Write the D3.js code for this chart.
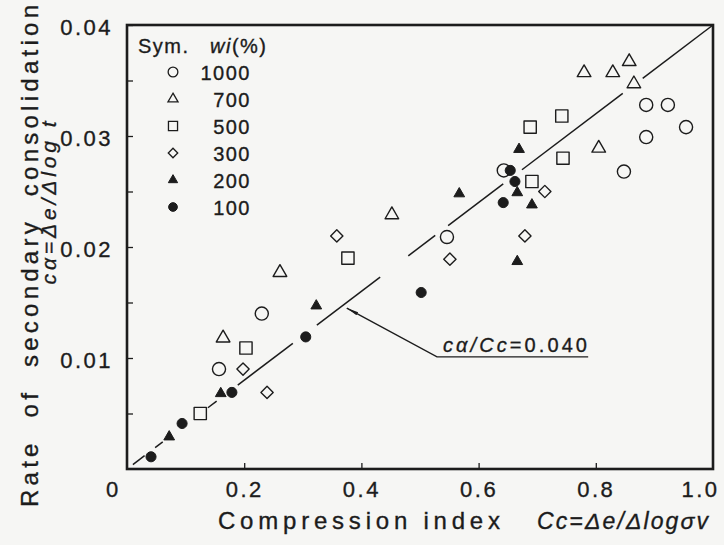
<!DOCTYPE html>
<html><head><meta charset="utf-8">
<script src="https://cdn.jsdelivr.net/npm/d3@7"></script>
<style>
html,body{margin:0;padding:0;background:#f6f6f4;}
svg{display:block;}
text{font-family:"Liberation Sans",Arial,sans-serif;fill:#1c1c1c;stroke:#1c1c1c;stroke-width:0.35px;}
</style></head><body><svg id="chart" width="724" height="545"></svg>
<script>
// ---- data (Cc, c_alpha) per initial water content ----
const seriesNames = ["1000","700","500","300","200","100"];
const wi1000 = [[0.886,0.0328],[0.923,0.0328],[0.954,0.0308],[0.886,0.0299],[0.848,0.0268],[0.643,0.0269],[0.546,0.0209],[0.230,0.0140],[0.157,0.0090]];
const wi700  = [[0.780,0.0357],[0.829,0.0357],[0.857,0.0367],[0.865,0.0347],[0.805,0.0289],[0.452,0.0229],[0.261,0.0177],[0.164,0.0118]];
const wi500  = [[0.742,0.0318],[0.688,0.0308],[0.744,0.0280],[0.691,0.0259],[0.377,0.0190],[0.203,0.0109],[0.125,0.0050]];
const wi300  = [[0.713,0.0250],[0.679,0.0210],[0.551,0.0189],[0.358,0.0210],[0.198,0.0090],[0.239,0.0069]];
const wi200  = [[0.669,0.0288],[0.567,0.0248],[0.666,0.0249],[0.691,0.0238],[0.666,0.0187],[0.323,0.0147],[0.160,0.0068],[0.072,0.0029]];
const wi100  = [[0.654,0.0269],[0.662,0.0259],[0.642,0.0240],[0.502,0.0159],[0.305,0.0119],[0.179,0.0069],[0.094,0.0041],[0.041,0.0011]];
const xTicks = [0.2,0.4,0.6,0.8,1.0];
const yTicks = [0.005,0.01,0.015,0.02,0.025,0.03,0.035,0.04];
const yLabelled = [0.01,0.02,0.03,0.04];
const fitRatio = 0.040;
// visible pieces of the (broken) fit line, as Cc ranges
const fitSegments = [[0.01,0.03],[0.048,0.061],[0.138,0.153],[0.189,0.283],[0.324,0.432],[0.48,0.526],[0.548,0.642],[0.674,0.846],[0.88,1.0]];
const annotText = "0.040";
const annotTip = [0.375, 0.0145];
const annotElbow = [0.529, 0.0101];
const annotEnd = [0.787, 0.0101];

const svg = d3.select("#chart");
const ink = "#1c1c1c", bg = "#f6f6f4";
const x = d3.scaleLinear().domain([0,1]).range([127,713]);
const y = d3.scaleLinear().domain([0,0.04]).range([469,25]);

// fit line
svg.append("g").selectAll("line").data(fitSegments).join("line")
  .attr("x1", d => x(d[0])).attr("y1", d => y(d[0]*fitRatio))
  .attr("x2", d => x(d[1])).attr("y2", d => y(d[1]*fitRatio))
  .attr("stroke", ink).attr("stroke-width", 1.5);

// axes
const yAx = svg.append("g").attr("transform", `translate(${x(0)},0)`)
  .call(d3.axisLeft(y).tickValues(yTicks).tickSize(-6).tickPadding(14)
    .tickFormat(d => yLabelled.some(v => Math.abs(v-d) < 1e-9) ? d3.format(".2f")(d) : ""));
yAx.select(".domain").remove();
yAx.selectAll("line").attr("stroke", ink).attr("stroke-width", 1.3);
yAx.selectAll("text").attr("font-size", 22).attr("letter-spacing", "2.5px")
  .attr("dy", "0.42em").attr("font-family", '"Liberation Sans",Arial,sans-serif').attr("fill", ink);

const xAx = svg.append("g").attr("transform", `translate(0,${y(0)})`)
  .call(d3.axisBottom(x).tickValues(xTicks).tickSize(-6).tickPadding(12).tickFormat(d3.format(".1f")));
xAx.select(".domain").remove();
xAx.selectAll("line").attr("stroke", ink).attr("stroke-width", 1.3);
xAx.selectAll("text").attr("font-size", 22).attr("letter-spacing", "2.5px")
  .attr("font-family", '"Liberation Sans",Arial,sans-serif').attr("fill", ink)
  .attr("dx", d => d === 1.0 ? -13 : 0);
xAx.selectAll(".tick").filter(d => d === 1.0).select("line").remove();

// origin label
svg.append("text").attr("x", x(0) - 15).attr("y", y(0) + 12).attr("dy", "0.71em")
  .attr("text-anchor", "middle").attr("font-size", 22).text("0");

// frame
svg.append("rect").attr("x", x(0)).attr("y", y(0.04))
  .attr("width", x(1) - x(0)).attr("height", y(0) - y(0.04))
  .attr("fill", "none").attr("stroke", ink).attr("stroke-width", 2.6);

// symbols
const shapes = {
  "1000": {type: d3.symbolCircle, size: 135, fill: false, rot: 0},
  "700":  {type: d3.symbolTriangle, size: 80, fill: false, rot: 0},
  "500":  {type: d3.symbolSquare, size: 150, fill: false, rot: 0},
  "300":  {type: d3.symbolSquare, size: 75, fill: false, rot: 45},
  "200":  {type: d3.symbolTriangle, size: 50, fill: true, rot: 0},
  "100":  {type: d3.symbolCircle, size: 80, fill: true, rot: 0}
};
const dataBy = {"1000": wi1000, "700": wi700, "500": wi500, "300": wi300, "200": wi200, "100": wi100};
const pts = svg.append("g");
seriesNames.forEach(name => {
  const s = shapes[name];
  pts.append("g").selectAll("path").data(dataBy[name]).join("path")
    .attr("d", d3.symbol().type(s.type).size(s.size))
    .attr("transform", d => `translate(${x(d[0])},${y(d[1])}) rotate(${s.rot})`)
    .attr("fill", s.fill ? ink : bg).attr("stroke", ink).attr("stroke-width", s.fill ? 1 : 1.4)
    .attr("stroke-linejoin", "round");
});

// legend
const lg = svg.append("g");
const hdr = lg.append("text").attr("x", 138).attr("y", 53).attr("font-size", 20).attr("letter-spacing", "1.5px")
  .style("white-space", "pre");
hdr.append("tspan").text("Sym.  ");
hdr.append("tspan").attr("x", 210).attr("font-style", "italic").text("wi");
hdr.append("tspan").text("(%)");
const legendScale = {"1000": 0.55, "700": 0.55, "500": 0.55, "300": 0.6, "200": 0.75, "100": 0.75};
seriesNames.forEach((name, i) => {
  const s = shapes[name];
  const ry = 72 + i * 27;
  lg.append("path").attr("d", d3.symbol().type(s.type).size(s.size * legendScale[name]))
    .attr("transform", `translate(173,${ry}) rotate(${s.rot})`)
    .attr("fill", s.fill ? ink : bg).attr("stroke", ink).attr("stroke-width", s.fill ? 1 : 1.3);
  lg.append("text").attr("x", 251).attr("y", ry + 8).attr("text-anchor", "end")
    .attr("font-size", 20).attr("letter-spacing", "1.5px").text(name);
});

// annotation
const defs = svg.append("defs");
defs.append("marker").attr("id", "ah").attr("viewBox", "0 0 12 6").attr("refX", 12).attr("refY", 3)
  .attr("markerWidth", 12).attr("markerHeight", 6).attr("markerUnits", "userSpaceOnUse").attr("orient", "auto")
  .append("path").attr("d", "M0,1.2 L12,3 L0,4.8 Z").attr("fill", ink);
svg.append("path")
  .attr("d", `M${x(annotEnd[0])},${y(annotEnd[1])} L${x(annotElbow[0])},${y(annotElbow[1])} L${x(annotTip[0])},${y(annotTip[1])}`)
  .attr("fill", "none").attr("stroke", ink).attr("stroke-width", 1.4).attr("marker-end", "url(#ah)");
const at = svg.append("text").attr("x", x(annotElbow[0]) + 6).attr("y", y(annotElbow[1]) - 5)
  .attr("font-size", 20).attr("textLength", 144).attr("lengthAdjust", "spacing");
at.append("tspan").attr("font-style", "italic").text("cα/Cc");
at.append("tspan").text("=" + annotText);

// axis titles
svg.append("text").attr("transform", "translate(38,256) rotate(-90)").attr("text-anchor", "middle")
  .attr("font-size", 24).style("white-space", "pre").attr("textLength", 502).attr("lengthAdjust", "spacing")
  .text("Rate  of  secondary  consolidation");
const yt2 = svg.append("text").attr("transform", "translate(56,203) rotate(-90)").attr("text-anchor", "middle")
  .attr("font-size", 21).attr("font-style", "italic").attr("textLength", 163).attr("lengthAdjust", "spacing");
yt2.text("cα=Δe/Δlog t");

svg.append("text").attr("x", 218).attr("y", 529).attr("font-size", 24)
  .attr("textLength", 282).attr("lengthAdjust", "spacing").text("Compression index");
svg.append("text").attr("x", 537).attr("y", 529).attr("font-size", 23).attr("font-style", "italic")
  .attr("textLength", 171).attr("lengthAdjust", "spacing").text("Cc=Δe/Δlogσv");
</script></body></html>
